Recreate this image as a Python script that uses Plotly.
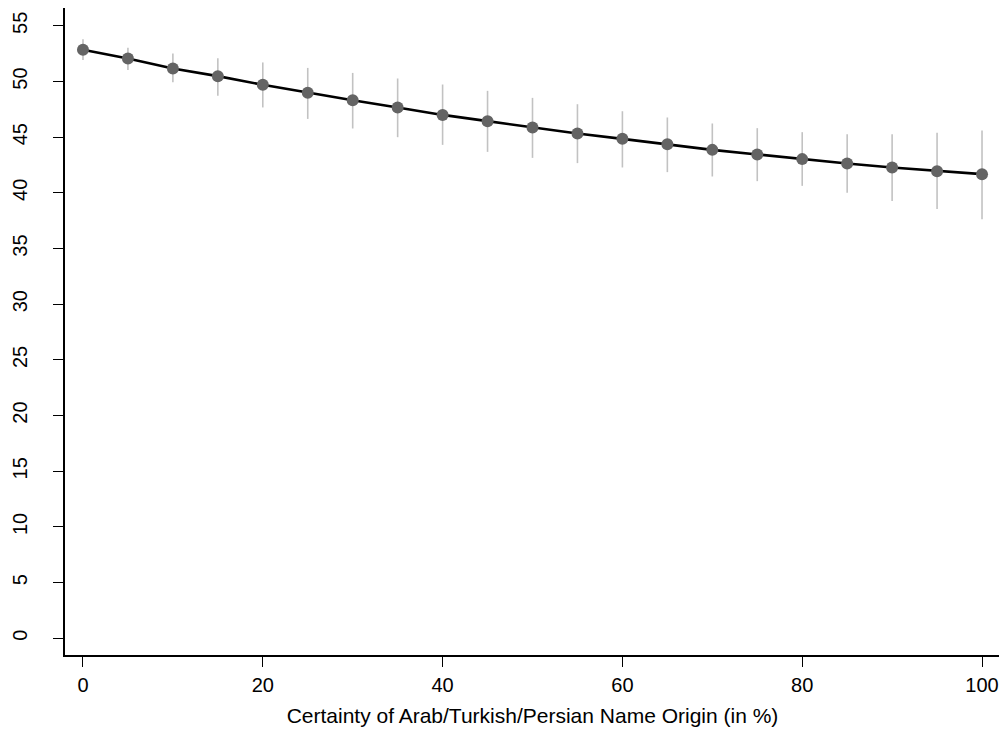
import plotly.graph_objects as go

certainty = [0, 5, 10, 15, 20, 25, 30, 35, 40, 45, 50, 55, 60, 65, 70, 75, 80, 85, 90, 95, 100]
estimate = [52.85, 52.06, 51.17, 50.48, 49.70, 48.98, 48.32, 47.67, 47.00, 46.44, 45.87,
            45.33, 44.85, 44.37, 43.86, 43.45, 43.03, 42.64, 42.28, 41.95, 41.68]
upper = [53.80, 53.02, 52.51, 52.09, 51.71, 51.22, 50.77, 50.27, 49.73, 49.16, 48.53,
         47.96, 47.33, 46.77, 46.23, 45.81, 45.45, 45.27, 45.27, 45.39, 45.60]
lower = [51.92, 51.04, 49.94, 48.71, 47.67, 46.64, 45.78, 45.00, 44.31, 43.68, 43.14,
         42.67, 42.28, 41.86, 41.47, 41.05, 40.63, 40.00, 39.28, 38.56, 37.64]
x_ticks = [0, 20, 40, 60, 80, 100]
y_ticks = [0, 5, 10, 15, 20, 25, 30, 35, 40, 45, 50, 55]
x_title = "Certainty of Arab/Turkish/Persian Name Origin (in %)"

err_plus = [u - e for u, e in zip(upper, estimate)]
err_minus = [e - l for e, l in zip(estimate, lower)]

fig = go.Figure()
# confidence intervals (drawn first, beneath the line)
fig.add_trace(go.Scatter(
    x=certainty, y=estimate, mode="markers",
    marker=dict(color="rgba(0,0,0,0)", size=1),
    error_y=dict(type="data", symmetric=False, array=err_plus, arrayminus=err_minus,
                 color="#c2c2c2", thickness=1.6, width=0),
    hoverinfo="skip", showlegend=False,
))
fig.add_trace(go.Scatter(
    x=certainty, y=estimate, mode="lines",
    line=dict(color="black", width=2.6),
    hoverinfo="skip", showlegend=False,
))
fig.add_trace(go.Scatter(
    x=certainty, y=estimate, mode="markers",
    marker=dict(color="#646464", size=12, line=dict(width=0)),
    customdata=list(zip(lower, upper)),
    hovertemplate="%{x}: %{y:.2f} [%{customdata[0]:.2f}, %{customdata[1]:.2f}]<extra></extra>",
    showlegend=False,
))

family = "Liberation Sans, Arial, sans-serif"
# the page body has an 8px default margin, so margins are shifted to compensate
fig.update_layout(
    width=1007, height=735,
    margin=dict(l=57, r=15, t=0, b=88),
    paper_bgcolor="white", plot_bgcolor="white",
    font=dict(family=family, size=18, color="black"),
    xaxis=dict(
        range=[-2, 102], tickvals=x_ticks, ticks="outside", ticklen=10, tickwidth=1.2,
        tickcolor="black", showline=True, linecolor="black", linewidth=1.5, mirror=True,
        showgrid=False, zeroline=False, automargin=False,
        tickfont=dict(family=family, size=20, color="black"), ticklabelstandoff=1,
        title=dict(text=x_title, standoff=14, font=dict(family=family, size=21, color="black")),
    ),
    yaxis=dict(
        range=[-1.5, 56.6], tickvals=y_ticks, ticks="outside", ticklen=10, tickwidth=1.2,
        tickcolor="black", showline=True, linecolor="black", linewidth=1.5, mirror=True,
        showgrid=False, zeroline=False, tickangle=-90, automargin=False,
        tickfont=dict(family=family, size=20, color="black"), ticklabelstandoff=18,
    ),
)
fig.write_html("out.html")
